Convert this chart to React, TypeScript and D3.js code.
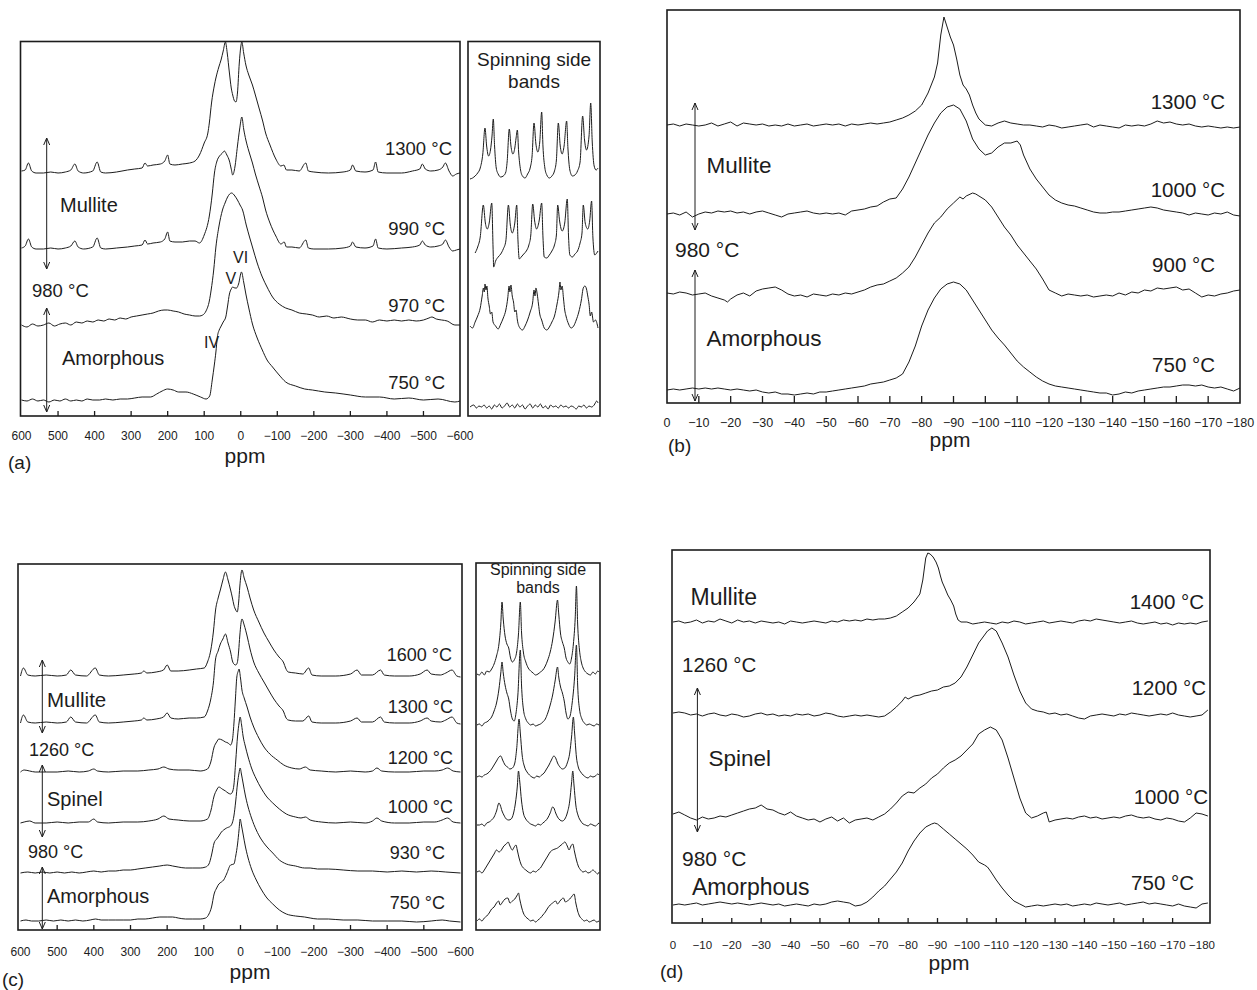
import React from "react";
import * as d3 from "d3";

type Pt = [number, number];

// ---------------- DATA ----------------
// Panel (a): ppm vs relative intensity
const aTicks = [600, 500, 400, 300, 200, 100, 0, -100, -200, -300, -400, -500, -600];
const aTemps = ["1300 °C", "990 °C", "970 °C", "750 °C"];
const a1300: Pt[] = [[600,2],[590,3],[581,10],[572,2],[560,0],[540,0],[520,1],[500,0],[480,1],[465,3],[454,9],[445,2],[430,0],[405,2],[393,11],[383,1],[370,0],[340,1],[310,3],[290,4],[270,5],[262,10],[255,7],[240,8],[220,9],[208,12],[200,18],[194,9],[180,8],[160,9],[140,10],[125,12],[113,18],[100,30],[90,40],[86,50],[80,70],[72,88],[68,95],[60,106],[54,113],[48,122],[42,131],[37,120],[31,100],[26,85],[22,78],[17,72],[13,71],[9,80],[4,110],[0,126],[-3,131],[-8,120],[-14,108],[-22,98],[-32,88],[-40,78],[-50,65],[-60,52],[-68,40],[-80,28],[-96,14],[-110,7],[-118,8],[-125,3],[-140,3],[-160,2],[-178,10],[-185,2],[-200,1],[-240,0],[-280,1],[-300,3],[-306,8],[-315,2],[-340,1],[-362,3],[-369,11],[-376,1],[-400,0],[-440,0],[-470,2],[-490,4],[-497,9],[-505,4],[-520,2],[-540,3],[-553,6],[-560,10],[-570,2],[-580,-3],[-590,-1],[-600,0]];
const a990: Pt[] = [[600,1],[590,3],[581,10],[572,2],[560,0],[540,0],[520,1],[500,0],[480,1],[465,3],[454,8],[445,2],[430,0],[405,2],[393,11],[383,1],[370,0],[340,1],[310,2],[290,3],[270,4],[262,9],[255,5],[240,6],[220,7],[208,10],[200,17],[194,8],[180,7],[160,7],[140,8],[125,8],[113,6],[100,14],[86,33],[78,55],[72,76],[65,88],[58,93],[50,96],[45,98],[38,94],[31,88],[26,80],[22,74],[16,82],[9,103],[3,120],[-3,132],[-8,120],[-14,109],[-22,98],[-32,86],[-40,75],[-50,63],[-60,51],[-68,39],[-80,26],[-96,13],[-110,5],[-119,7],[-125,2],[-140,2],[-160,1],[-178,9],[-185,1],[-200,0],[-240,0],[-280,1],[-300,3],[-306,7],[-315,2],[-340,1],[-362,3],[-369,10],[-376,1],[-400,0],[-440,1],[-470,2],[-490,4],[-497,8],[-505,4],[-520,2],[-540,3],[-553,5],[-560,9],[-570,2],[-580,-2],[-590,-1],[-600,0]];
const a970: Pt[] = [[600,0],[585,-2],[570,1],[555,-1],[540,0],[525,2],[510,-1],[495,1],[480,2],[465,0],[450,3],[435,2],[420,4],[405,3],[390,5],[375,4],[360,6],[345,5],[330,7],[315,6],[300,8],[285,9],[270,10],[255,11],[240,12],[225,14],[210,15],[200,15],[185,14],[170,13],[155,11],[140,10],[125,9],[113,9],[104,10],[95,14],[86,24],[81,35],[74,55],[68,78],[60,98],[50,115],[43,122],[36,128],[25,132],[16,129],[9,125],[2,120],[-5,115],[-15,100],[-24,88],[-32,78],[-45,62],[-59,48],[-72,38],[-87,28],[-105,21],[-123,17],[-140,15],[-160,12],[-180,11],[-196,10],[-215,8],[-235,9],[-255,7],[-275,8],[-300,6],[-320,5],[-341,5],[-360,3],[-380,5],[-400,4],[-420,5],[-440,4],[-460,5],[-480,4],[-500,5],[-515,7],[-523,8],[-535,6],[-550,5],[-565,4],[-586,0],[-600,0]];
const a750: Pt[] = [[600,2],[585,1],[570,3],[555,1],[540,2],[525,0],[510,2],[495,1],[480,3],[465,1],[450,2],[435,1],[420,3],[405,2],[386,2],[370,3],[350,2],[330,3],[310,3],[290,4],[270,5],[247,5],[230,8],[215,11],[200,13],[185,12],[170,10],[150,10],[130,8],[110,5],[95,3],[85,6],[78,22],[72,38],[68,50],[64,65],[59,72],[55,75],[48,80],[41,85],[36,96],[31,108],[26,113],[22,115],[16,114],[11.5,114],[6,118],[-2,130],[-8,120],[-14,108],[-22,94],[-32,78],[-45,64],[-59,52],[-72,42],[-87,35],[-105,27],[-123,20],[-150,16],[-175,13],[-196,12],[-230,10],[-260,9],[-300,7],[-341,5],[-380,5],[-420,3],[-460,4],[-500,2],[-540,3],[-586,0],[-600,1]];

// Panel (a) spinning side bands (normalised position 0-100 across the box)
const aSide1300: Pt[] = [[0,-3],[2,-2],[4,0],[6,3],[8,8],[10,22],[11.7,48],[13,30],[14.5,20],[16,26],[17.2,40],[18.2,57],[19.2,30],[20.5,8],[22,2],[24,-1],[26,0],[28,4],[29,14],[30.7,47],[32,30],[33.5,22],[35,28],[36,38],[37,46],[38,24],[39.5,6],[41,0],[43,-2],[45,2],[47,8],[48.5,20],[50,53],[51.5,32],[53,24],[54.5,34],[56,64],[57,30],[58.5,8],[60,1],[62,-2],[64,0],[66,5],[67.5,16],[69,53],[70.5,30],[72,22],[73.5,30],[75.5,55],[76.5,28],[78,6],[80,0],[82,1],[84,5],[86,14],[88,60],[89.5,36],[91,26],[93,40],[94.3,73],[95.5,34],[97,10],[98.5,6],[100,8]];
const aSide990: Pt[] = [[4,-2],[6,4],[8,14],[10.4,46],[12,28],[13.5,22],[15,28],[17,48],[18,4],[18.5,-16],[20,-10],[22,-6],[24,-3],[26,2],[28,10],[30,46],[31.5,26],[33,18],[35,28],[36.5,46],[37.5,10],[38.5,-8],[40,-6],[42,-3],[44,0],[46,6],[47.5,16],[49,47],[50.5,30],[52,22],[54,30],[56,48],[57,14],[58,-6],[60,-7],[62,-4],[64,0],[66,6],[67.5,16],[68.5,46],[70,30],[72,20],[74,28],[76,52],[77,14],[78,-4],[80,-6],[82,-3],[84,0],[86,8],[87.5,18],[88.5,46],[90,28],[92,22],[93.5,30],[95,50],[96,14],[97.5,-4],[99,-2],[100,0]];
const aSide970: Pt[] = [[0,0],[2,-2],[4,4],[6,10],[8,18],[9.5,30],[10.5,38],[11.2,34],[11.7,42],[12.5,36],[13.2,40],[14,28],[15,20],[16,12],[17,14],[18,4],[20,0],[22,-3],[24,2],[26,8],[28,16],[29.5,28],[30.5,40],[31.2,34],[32,41],[33,30],[34,24],[35,14],[36,16],[37,6],[39,-2],[41,-4],[43,0],[45,6],[47,14],[49,24],[50,36],[50.8,30],[51.5,38],[52.5,32],[53.5,22],[54.5,12],[56,6],[58,-2],[60,-4],[62,-1],[64,4],[66,10],[68,22],[69.5,34],[70.3,44],[71,36],[72,40],[73,28],[74,16],[75,10],[77,2],[79,-2],[81,0],[83,6],[85,14],[87,26],[88.5,38],[89.8,40],[91,37],[92,30],[93,22],[94,10],[95,14],[96.5,4],[98,6],[100,-2]];
const aSide750: Pt[] = [[0,0],[3,2],[5,-1],[7,1],[9,0],[11,2],[13,-1],[15,1],[17,-2],[19,2],[21,0],[23,3],[25,-1],[27,1],[29,4],[31,0],[33,2],[35,-1],[37,3],[39,0],[41,2],[43,-2],[45,1],[47,3],[49,-1],[51,2],[53,0],[55,3],[57,-1],[59,1],[61,-2],[63,2],[65,0],[67,1],[69,-1],[71,2],[73,0],[75,1],[77,-1],[79,1],[81,0],[83,-2],[85,1],[87,0],[89,2],[91,-1],[93,1],[95,0],[97,2],[99,6],[100,4]];

// Panel (b)
const bTicks = [0, -10, -20, -30, -40, -50, -60, -70, -80, -90, -100, -110, -120, -130, -140, -150, -160, -170, -180];
const bTemps = ["1300 °C", "1000 °C", "900 °C", "750 °C"];
const b1300: Pt[] = [[0,0],[-2,1],[-4,-1],[-6,1],[-8,0],[-10,-1],[-12,0],[-14,2],[-16,-1],[-18,1],[-20,3],[-22,-1],[-24,2],[-26,1],[-28,0],[-30,1],[-32,-1],[-34,0],[-36,-1],[-38,1],[-40,-1],[-42,0],[-44,1],[-46,-1],[-48,0],[-50,1],[-52,0],[-54,1],[-56,-1],[-58,1],[-60,0],[-62,1],[-64,2],[-66,1],[-68,2],[-70,3],[-72,5],[-74,7],[-76,10],[-78,14],[-80,20],[-82,32],[-84,48],[-85,62],[-86,90],[-87,108],[-88,98],[-89,88],[-90,80],[-91,66],[-92,50],[-93,40],[-94,36],[-95,30],[-96,20],[-97,12],[-98,6],[-100,0],[-102,-1],[-104,2],[-106,4],[-108,2],[-110,1],[-112,0],[-114,0],[-116,-1],[-118,-2],[-120,0],[-122,-1],[-124,-3],[-126,-2],[-128,-1],[-130,0],[-132,1],[-134,-2],[-136,0],[-138,-1],[-140,-2],[-142,-3],[-144,0],[-146,-1],[-148,0],[-150,-1],[-152,1],[-154,4],[-156,2],[-158,3],[-160,1],[-162,0],[-164,1],[-166,-1],[-168,-2],[-170,-1],[-172,-2],[-174,-3],[-176,-2],[-178,-3],[-180,-2]];
const b1000: Pt[] = [[0,-1],[-2,0],[-4,-2],[-6,1],[-8,-4],[-10,-1],[-12,1],[-14,0],[-16,2],[-18,1],[-20,2],[-22,0],[-24,1],[-26,-1],[-28,1],[-30,2],[-32,0],[-34,-2],[-36,-4],[-38,-1],[-40,0],[-42,1],[-44,2],[-46,0],[-48,-1],[-50,0],[-52,-1],[-54,0],[-56,-2],[-58,2],[-60,3],[-62,4],[-64,6],[-66,7],[-68,11],[-70,14],[-72,15],[-74,24],[-76,36],[-78,50],[-80,64],[-82,78],[-84,90],[-86,100],[-88,106],[-90,108],[-92,104],[-94,92],[-96,74],[-98,64],[-100,58],[-102,60],[-104,66],[-106,70],[-108,70],[-110,72],[-111,68],[-112,58],[-114,44],[-116,34],[-118,26],[-120,18],[-122,13],[-124,10],[-126,8],[-128,7],[-130,5],[-132,3],[-134,1],[-136,0],[-138,0],[-140,1],[-142,1],[-144,2],[-146,3],[-148,4],[-150,5],[-152,6],[-154,5],[-156,3],[-158,2],[-160,1],[-162,0],[-164,-2],[-166,0],[-168,-1],[-170,-2],[-172,0],[-174,-1],[-176,1],[-178,-2],[-180,-3]];
const b900: Pt[] = [[0,0],[-2,-1],[-4,1],[-6,0],[-8,-2],[-10,-1],[-12,0],[-14,-3],[-16,-5],[-18,-7],[-19,-9],[-20,-6],[-22,-2],[-24,0],[-26,-3],[-28,2],[-30,4],[-32,5],[-34,6],[-36,3],[-38,-1],[-40,-3],[-42,-2],[-44,-4],[-46,-1],[-48,-2],[-50,-3],[-52,-1],[-54,-2],[-56,0],[-58,-1],[-60,1],[-62,3],[-64,6],[-66,8],[-68,9],[-70,12],[-72,15],[-74,20],[-76,26],[-78,36],[-80,48],[-82,60],[-84,70],[-86,76],[-88,84],[-90,90],[-92,96],[-93,94],[-94,97],[-96,100],[-97,99],[-98,97],[-100,93],[-102,86],[-104,76],[-106,66],[-108,58],[-110,48],[-112,40],[-114,32],[-116,24],[-118,14],[-120,3],[-122,0],[-124,-3],[-126,-1],[-128,-2],[-130,-3],[-132,-2],[-134,-4],[-136,-3],[-138,-2],[-140,-3],[-142,0],[-144,-2],[-146,1],[-148,0],[-150,3],[-152,2],[-154,5],[-156,4],[-158,5],[-160,6],[-162,3],[-164,4],[-166,0],[-168,-4],[-170,-2],[-172,-3],[-174,-1],[-176,0],[-178,2],[-180,3]];
const b750: Pt[] = [[0,0],[-2,1],[-4,0],[-6,1],[-8,2],[-10,1],[-12,2],[-14,1],[-16,2],[-18,1],[-20,0],[-22,1],[-24,0],[-26,-1],[-28,0],[-30,-2],[-32,-3],[-34,-2],[-36,-4],[-38,-4],[-40,-5],[-42,-4],[-44,-3],[-46,-4],[-48,-2],[-50,-2],[-52,-1],[-54,0],[-56,1],[-58,2],[-60,3],[-62,4],[-64,6],[-66,7],[-68,8],[-70,10],[-72,12],[-74,16],[-76,28],[-78,44],[-80,64],[-82,80],[-84,92],[-86,101],[-88,106],[-90,108],[-92,106],[-94,100],[-96,90],[-98,80],[-100,70],[-102,60],[-104,52],[-106,45],[-108,37],[-110,29],[-112,23],[-114,18],[-116,13],[-118,9],[-120,6],[-122,4],[-124,3],[-126,2],[-128,1],[-130,0],[-132,-1],[-134,-2],[-136,-3],[-138,-3],[-140,-5],[-142,-4],[-144,-2],[-146,-3],[-148,-1],[-150,0],[-152,1],[-154,2],[-156,3],[-158,3],[-160,4],[-162,5],[-164,5],[-166,4],[-168,5],[-170,3],[-172,2],[-174,3],[-176,1],[-178,-1],[-180,2]];

// Panel (c)
const cTicks = aTicks;
const cTemps = ["1600 °C", "1300 °C", "1200 °C", "1000 °C", "930 °C", "750 °C"];
const c1600: Pt[] = [[600,0],[592,8],[580,1],[560,0],[530,1],[500,0],[475,1],[463,6],[450,1],[420,0],[396,8],[385,1],[360,0],[320,1],[290,2],[270,3],[264,5],[255,3],[230,4],[210,6],[200,11],[190,5],[170,5],[140,6],[120,7],[99,8],[90,14],[81,26],[74,44],[68,66],[61,78],[55,86],[48,96],[41,104],[34,96],[27,86],[22,78],[18,71],[13,66],[9,64],[5,74],[2,89],[-4,106],[-10,98],[-18,89],[-26,78],[-36,66],[-50,54],[-64,43],[-78,34],[-91,26],[-105,19],[-118,13],[-123,8],[-130,4],[-150,3],[-170,2],[-186,8],[-195,1],[-220,0],[-260,0],[-300,2],[-318,6],[-330,1],[-360,1],[-382,6],[-392,1],[-420,0],[-460,0],[-490,2],[-509,6],[-520,2],[-545,1],[-560,3],[-577,6],[-590,0],[-600,-1]];
const c1300: Pt[] = [[600,0],[592,8],[580,1],[560,0],[530,1],[500,0],[475,1],[463,6],[450,1],[420,0],[396,8],[385,1],[360,0],[320,1],[290,2],[270,3],[264,5],[255,3],[230,4],[210,6],[200,10],[190,5],[170,4],[140,5],[120,5],[99,6],[90,12],[81,24],[74,40],[68,64],[61,72],[55,79],[48,84],[41,89],[34,80],[27,71],[22,62],[18,59],[13,58],[9,60],[5,72],[2,87],[-4,104],[-10,98],[-18,87],[-26,74],[-36,61],[-50,50],[-64,41],[-78,32],[-91,24],[-105,17],[-118,11],[-123,6],[-130,3],[-150,2],[-170,2],[-186,7],[-195,1],[-220,0],[-260,0],[-300,2],[-318,5],[-330,1],[-360,1],[-382,6],[-392,1],[-420,0],[-460,0],[-490,2],[-509,5],[-520,2],[-545,1],[-560,3],[-577,6],[-590,0],[-600,-1]];
const c1200: Pt[] = [[600,0],[590,2],[575,1],[560,0],[530,0],[500,0],[470,1],[440,0],[415,1],[400,3],[390,1],[360,0],[320,1],[280,1],[250,2],[225,3],[209,5],[195,3],[170,2],[140,2],[110,1],[90,3],[81,10],[72,25],[65,30],[59,33],[50,32],[41,30],[34,29],[27,27],[22,32],[18,48],[14,72],[10,95],[6,101],[4,103],[0,94],[-4,82],[-10,74],[-18,65],[-26,55],[-36,45],[-50,34],[-64,25],[-80,18],[-100,12],[-118,7],[-140,4],[-160,3],[-177,5],[-190,2],[-220,1],[-260,0],[-300,1],[-340,0],[-360,1],[-372,4],[-385,1],[-420,0],[-460,0],[-500,1],[-530,1],[-550,2],[-565,4],[-580,1],[-600,0]];
const c1000: Pt[] = [[600,0],[590,1],[575,2],[560,0],[530,0],[500,1],[470,0],[440,1],[415,1],[400,4],[390,1],[360,0],[320,1],[280,1],[250,2],[225,4],[209,7],[195,4],[170,3],[140,2],[110,2],[90,4],[81,12],[72,27],[65,33],[59,36],[50,34],[41,32],[34,30],[27,29],[22,31],[18,38],[13,62],[8,87],[4,100],[1,106],[-3,98],[-7,87],[-13,77],[-20,67],[-30,55],[-43,44],[-56,35],[-70,27],[-88,20],[-106,14],[-125,9],[-150,6],[-165,5],[-177,6],[-190,3],[-220,1],[-260,0],[-300,1],[-340,0],[-360,2],[-372,5],[-385,2],[-420,0],[-460,0],[-500,1],[-530,1],[-550,3],[-565,5],[-580,1],[-600,0]];
const c930: Pt[] = [[600,0],[580,1],[560,0],[540,1],[520,0],[500,1],[480,0],[460,1],[440,0],[420,1],[400,2],[380,1],[360,2],[340,2],[320,3],[300,3],[280,4],[260,5],[240,6],[220,7],[200,8],[185,7],[170,6],[150,5],[130,5],[110,5],[95,6],[86,9],[79,18],[72,30],[65,34],[59,37],[52,41],[46,43],[38,45],[27,47],[18,57],[13,72],[8,90],[4,100],[1,105],[-3,98],[-7,90],[-13,78],[-20,67],[-30,55],[-43,43],[-56,34],[-70,27],[-88,20],[-106,13],[-125,9],[-150,7],[-175,5],[-190,5],[-210,4],[-240,4],[-280,3],[-320,2],[-360,2],[-400,1],[-440,2],[-480,1],[-520,2],[-560,1],[-600,0]];
const c750: Pt[] = [[600,1],[585,2],[570,1],[550,1],[530,2],[510,1],[490,2],[470,1],[450,2],[430,1],[410,2],[395,3],[380,2],[360,2],[340,2],[320,2],[300,2],[280,3],[260,3],[240,4],[220,5],[200,5],[185,5],[170,4],[150,3],[130,3],[110,3],[95,4],[86,8],[79,15],[72,28],[65,34],[59,38],[52,40],[46,42],[38,48],[27,57],[18,58],[13,66],[8,78],[4,92],[1,103],[-3,96],[-7,88],[-13,76],[-20,65],[-30,53],[-43,42],[-56,33],[-70,25],[-88,18],[-106,12],[-125,8],[-150,6],[-175,5],[-190,4],[-210,3],[-240,3],[-280,2],[-320,2],[-360,1],[-400,1],[-440,1],[-480,0],[-520,1],[-550,2],[-570,1],[-600,0]];

// Panel (c) spinning side bands (normalised position 0-100 across the box)
const cSide1600: Pt[] = [[0,0],[2,-1],[4,2],[6,-1],[8,3],[10,2],[12,5],[14,10],[16,18],[18,30],[19.5,50],[20.5,72],[21.5,55],[23,38],[24.5,30],[26,26],[27.5,16],[29,12],[30.5,14],[32.5,22],[34,40],[35.5,72],[36.5,42],[38,22],[40,12],[42,6],[44,3],[46,1],[48,-1],[50,0],[52,2],[54,4],[56,8],[58,14],[60,22],[62,34],[64,52],[66,74],[67,60],[68.5,40],[70,32],[71.5,26],[73,16],[74.5,12],[76,10],[77.5,16],[79,30],[80.5,56],[81.5,88],[82.5,50],[84,24],[85.5,12],[87,6],[89,2],[91,0],[93,-1],[95,2],[97,0],[99,3],[100,2]];
const cSide1300: Pt[] = [[0,0],[2,1],[4,-1],[6,2],[8,3],[10,5],[12,8],[14,14],[16,22],[18,36],[19.5,52],[20.5,63],[21.5,52],[23,40],[24.5,32],[26,26],[27.5,14],[29,6],[30.5,4],[32,12],[33.5,30],[35.5,75],[36.5,40],[38,16],[40,6],[42,2],[44,0],[46,1],[48,-1],[50,0],[52,1],[54,3],[56,6],[58,12],[60,20],[62,30],[64,44],[66,58],[67,48],[68.5,38],[70,32],[71.5,24],[73,12],[74.5,6],[76,8],[78,22],[80,48],[81.5,80],[82.5,40],[84,16],[86,6],[88,2],[90,0],[92,1],[94,0],[96,-1],[98,1],[100,0]];
const cSide1200: Pt[] = [[0,0],[2,1],[4,0],[6,2],[8,3],[10,5],[12,8],[14,12],[16,16],[18,20],[19.5,21],[21,17],[23,12],[25,10],[27,8],[29,9],[31,14],[32.5,28],[34.5,58],[35.5,44],[37,22],[39,10],[41,5],[43,2],[45,0],[47,-1],[49,1],[51,0],[53,2],[55,4],[57,8],[59,12],[61,17],[63,21],[64.5,19],[66,14],[68,10],[70,8],[72,9],[74,14],[76,24],[77.5,40],[79,60],[80,44],[81.5,20],[83,10],[85,5],[87,2],[89,0],[91,-1],[93,1],[95,0],[97,1],[99,3],[100,2]];
const cSide1000: Pt[] = [[0,0],[2,0],[4,1],[6,-1],[8,2],[10,3],[12,5],[14,8],[16,14],[18,22],[19,20],[20.5,14],[22,10],[24,6],[26,5],[28,6],[30,12],[31.5,22],[33,38],[34,54],[35,44],[36.5,24],[38,12],[40,6],[42,3],[44,1],[46,0],[48,-1],[50,1],[52,0],[54,2],[56,4],[58,7],[60,12],[62,18],[63,17],[64.5,12],[66,8],[68,5],[70,4],[72,6],[74,12],[76,24],[77.5,42],[78.5,54],[79.5,40],[81,20],[83,9],[85,4],[87,1],[89,0],[91,-1],[93,1],[95,0],[97,-1],[99,1],[100,2]];
const cSide930: Pt[] = [[0,0],[2,1],[4,-1],[6,2],[8,6],[10,10],[12,14],[14,18],[16,22],[18,20],[20,22],[22,26],[24,28],[25.5,30],[27,26],[29,22],[30.5,25],[32,27],[33,22],[34.5,14],[36,8],[38,4],[40,2],[42,0],[44,-1],[46,1],[48,0],[50,2],[52,4],[54,8],[56,12],[58,16],[60,20],[62,22],[64,23],[66,24],[68,26],[70,28],[72,30],[74,26],[75.5,22],[77,26],[78.5,28],[80,20],[81.5,12],[83,6],[85,2],[87,0],[89,1],[91,-1],[93,0],[95,2],[97,0],[99,-2],[100,0]];
const cSide750: Pt[] = [[0,0],[2,2],[4,0],[6,3],[8,5],[10,8],[12,12],[14,14],[16,18],[17.7,20],[19,16],[21,19],[23,22],[25.3,23],[27,18],[29,20],[31,22],[33,26],[34,28],[35,22],[36.5,14],[38,8],[40,4],[42,2],[44,0],[46,1],[48,-1],[50,1],[52,3],[54,6],[56,9],[58,13],[60,16],[62,18],[64.5,20],[66,17],[68,20],[70.8,23],[72.5,19],[74,20],[76,22],[78,25],[79.6,27],[81,18],[82.5,10],[84,5],[86,2],[88,0],[90,1],[92,-1],[94,0],[96,1],[98,-1],[100,0]];

// Panel (d)
const dTicks = bTicks;
const dTemps = ["1400 °C", "1200 °C", "1000 °C", "750 °C"];
const d1400: Pt[] = [[0,0],[-2,1],[-4,-1],[-6,0],[-8,2],[-10,-1],[-12,1],[-14,0],[-16,3],[-18,1],[-20,-1],[-22,2],[-24,0],[-26,1],[-28,-1],[-30,1],[-32,0],[-34,-1],[-36,0],[-38,-2],[-40,1],[-42,0],[-44,-1],[-46,0],[-48,1],[-50,0],[-52,-1],[-54,1],[-56,0],[-58,2],[-60,1],[-62,2],[-64,1],[-66,3],[-68,2],[-70,3],[-72,3],[-74,4],[-76,6],[-78,10],[-80,14],[-82,20],[-83,24],[-84,28],[-85,42],[-86,64],[-86.7,69],[-87.5,68],[-88.5,65],[-89.5,60],[-90.3,54],[-91,46],[-91.6,40],[-92.5,34],[-93.5,27],[-94.5,22],[-95.5,16],[-96.2,8],[-97,2],[-98,0],[-100,0],[-102,-2],[-104,-1],[-106,0],[-108,-1],[-110,-2],[-112,0],[-114,-1],[-116,1],[-118,0],[-120,-2],[-122,-1],[-124,0],[-126,1],[-128,-1],[-130,0],[-132,1],[-134,0],[-136,-1],[-138,1],[-140,2],[-142,1],[-144,3],[-146,2],[-148,1],[-150,0],[-152,-1],[-154,0],[-156,1],[-158,-1],[-160,-2],[-162,-1],[-164,0],[-166,-2],[-168,-1],[-170,-3],[-172,-1],[-174,-2],[-176,-1],[-178,-2],[-180,0],[-182,1]];
const d1200: Pt[] = [[0,2],[-2,3],[-4,2],[-6,0],[-8,1],[-10,-1],[-12,1],[-14,2],[-16,0],[-18,-1],[-20,1],[-22,0],[-24,-2],[-26,-1],[-28,1],[-30,2],[-32,0],[-34,1],[-36,-1],[-38,0],[-40,-1],[-42,1],[-44,0],[-46,1],[-48,-1],[-50,0],[-52,2],[-54,1],[-56,-1],[-58,-2],[-60,-1],[-62,0],[-64,-1],[-66,0],[-68,-1],[-70,-2],[-72,-1],[-74,3],[-76,8],[-78,14],[-79,18],[-80,16],[-82,19],[-84,20],[-86,22],[-88,24],[-90,25],[-92,28],[-94,29],[-96,32],[-98,38],[-100,48],[-102,60],[-104,72],[-106,80],[-107,84],[-108.5,87],[-110,84],[-112,72],[-114,58],[-116,40],[-118,24],[-120,12],[-122,6],[-124,4],[-126,3],[-128,1],[-130,2],[-132,0],[-134,1],[-136,-1],[-138,-3],[-140,-4],[-142,-1],[-144,0],[-146,1],[-148,0],[-150,-1],[-152,1],[-154,0],[-156,2],[-158,1],[-160,0],[-162,-1],[-164,0],[-166,1],[-168,0],[-170,2],[-172,0],[-174,-1],[-176,-2],[-178,-1],[-180,0],[-182,5]];
const d1000: Pt[] = [[0,4],[-2,6],[-4,3],[-6,0],[-8,-2],[-10,1],[-12,-1],[-14,0],[-16,2],[-18,1],[-20,3],[-22,5],[-24,7],[-26,9],[-28,10],[-30,13],[-32,9],[-34,8],[-36,5],[-38,3],[-40,6],[-42,2],[-44,0],[-46,-2],[-48,-1],[-50,-4],[-52,-1],[-54,1],[-56,-3],[-58,0],[-60,-5],[-62,-2],[-64,-1],[-66,0],[-68,-2],[-70,1],[-72,4],[-74,9],[-76,15],[-78,22],[-80,26],[-82,25],[-84,30],[-86,34],[-88,40],[-90,44],[-92,50],[-94,55],[-96,58],[-98,62],[-100,68],[-102,74],[-104,84],[-106,88],[-108,91],[-110,88],[-112,78],[-114,60],[-116,40],[-118,20],[-120,5],[-122,0],[-124,2],[-126,5],[-127,6],[-128,-4],[-130,-2],[-132,-1],[-134,0],[-136,-1],[-138,1],[-140,2],[-142,0],[-144,1],[-146,-1],[-148,0],[-150,1],[-152,0],[-154,2],[-156,3],[-158,1],[-160,0],[-162,1],[-164,-1],[-166,-2],[-168,0],[-170,-1],[-172,-3],[-174,-4],[-176,0],[-178,5],[-180,4],[-182,2]];
const d750: Pt[] = [[0,0],[-2,1],[-4,0],[-6,1],[-8,2],[-10,0],[-12,1],[-14,2],[-16,3],[-18,2],[-20,1],[-22,2],[-24,1],[-26,0],[-28,1],[-30,2],[-32,1],[-34,0],[-36,1],[-38,-1],[-40,0],[-42,1],[-44,0],[-46,-1],[-48,1],[-50,0],[-52,1],[-54,3],[-56,4],[-58,3],[-60,2],[-62,-1],[-64,0],[-66,3],[-68,8],[-70,14],[-72,19],[-74,26],[-76,33],[-78,42],[-80,54],[-82,64],[-84,72],[-86,78],[-88,81],[-89,82],[-90,81],[-92,76],[-94,71],[-96,66],[-98,61],[-100,56],[-102,50],[-104,43],[-106,40],[-107,38],[-108,34],[-110,25],[-112,17],[-114,10],[-116,4],[-118,1],[-120,-2],[-122,-1],[-124,0],[-126,-1],[-128,0],[-130,1],[-132,0],[-134,1],[-136,-1],[-138,0],[-140,1],[-142,0],[-144,2],[-146,1],[-148,0],[-150,1],[-152,2],[-154,0],[-156,1],[-158,2],[-160,3],[-162,1],[-164,2],[-166,1],[-168,0],[-170,-1],[-172,1],[-174,-1],[-176,-2],[-178,-3],[-180,1],[-182,2]];

// ---------------- DRAWING ----------------
const FONT = "'Liberation Sans', Arial, Helvetica, sans-serif";
const INK = "#1c1c1c";

const fmt = (v: number) => (v < 0 ? "\u2212" + Math.abs(v) : String(v));

function Trace({ data, x, base, curve }: { data: Pt[]; x: (v: number) => number; base: number; curve: any }) {
  const y = d3.scaleLinear().domain([0, 100]).range([base, base - 100]);
  const line = d3.line<Pt>().x((d) => x(d[0])).y((d) => y(d[1])).curve(curve);
  return <path d={line(data) || ""} fill="none" stroke={INK} strokeWidth={1} strokeLinejoin="round" />;
}

function Arrow({ x, y1, y2 }: { x: number; y1: number; y2: number }) {
  return (
    <g stroke={INK} strokeWidth={1} fill="none">
      <line x1={x} x2={x} y1={y1} y2={y2} />
      <polyline points={`${x - 3},${y1 + 7} ${x},${y1} ${x + 3},${y1 + 7}`} />
      <polyline points={`${x - 3},${y2 - 7} ${x},${y2} ${x + 3},${y2 - 7}`} />
    </g>
  );
}

function Label({ x, y, text, size, anchor = "start" }: { x: number; y: number; text: string; size: number; anchor?: string }) {
  return (
    <text x={x} y={y + size * 0.36} fontSize={size} textAnchor={anchor as any} fill={INK} fontFamily={FONT}>
      {text}
    </text>
  );
}

function Frame({ x0, x1, y0, y1 }: { x0: number; x1: number; y0: number; y1: number }) {
  return <rect x={x0} y={y0} width={x1 - x0} height={y1 - y0} fill="none" stroke={INK} strokeWidth={1.6} />;
}

function TickAxis({ x, ticks, y, len, labelY, size, inner }: { x: d3.ScaleLinear<number, number>; ticks: number[]; y: number; len: number; labelY: number; size: number; inner: number[] }) {
  return (
    <g>
      {inner.map((t) => (
        <line key={"t" + t} x1={x(t)} x2={x(t)} y1={y} y2={y - len} stroke={INK} strokeWidth={1.3} />
      ))}
      {ticks.map((t) => (
        <text key={"l" + t} x={x(t)} y={labelY + size * 0.36} fontSize={size} textAnchor="middle" fill={INK} fontFamily={FONT}>
          {fmt(t)}
        </text>
      ))}
    </g>
  );
}

export default function App() {
  const mono = d3.curveMonotoneX;
  const lin = d3.curveLinear;

  // Panel (a)
  const ax = d3.scaleLinear().domain([600, -600]).range([21.5, 460]);
  const aBase = [173, 249, 325, 402];
  const aSpectra = [a1300, a990, a970, a750];
  const aSx = d3.scaleLinear().domain([0, 100]).range([470, 598]);
  const aSideBase = [176, 251, 326, 407];
  const aSide = [aSide1300, aSide990, aSide970, aSide750];
  const aTempY = [148, 228, 305, 382];
  const aTempX = [452, 445, 445, 445];

  // Panel (b)
  const bx = d3.scaleLinear().domain([0, -180]).range([667, 1240]);
  const bBase = [125, 213, 293, 390];
  const bSpectra = [b1300, b1000, b900, b750];
  const bTempY = [102, 190, 265, 365];
  const bTempX = [1225, 1225, 1215, 1215];

  // Panel (c)
  const cx = d3.scaleLinear().domain([600, -600]).range([20.5, 460.5]);
  const cBase = [676, 723, 772, 823, 873, 922];
  const cSpectra = [c1600, c1300, c1200, c1000, c930, c750];
  const cSx = d3.scaleLinear().domain([0, 100]).range([477, 599]);
  const cSideBase = [674, 725, 777, 825, 872, 921];
  const cSide = [cSide1600, cSide1300, cSide1200, cSide1000, cSide930, cSide750];
  const cTempY = [655, 707, 758, 807, 853, 903];
  const cTempX = [452, 453, 453, 453, 445, 445];

  // Panel (d)
  const dx = d3.scaleLinear().domain([0, -180]).range([673, 1202]);
  const dBase = [622, 715, 818, 905];
  const dSpectra = [d1400, d1200, d1000, d750];
  const dTempY = [602, 688, 797, 883];
  const dTempX = [1204, 1206, 1208, 1194];

  const innerAC = aTicks.filter((t) => Math.abs(t) < 600);
  const innerBD = bTicks.filter((t) => t < 0 && t > -180);

  return (
    <svg width={1257} height={990} viewBox="0 0 1257 990" style={{ position: "absolute", left: 0, top: 0, background: "#fff" }}>
      <rect x={0} y={0} width={1257} height={990} fill="#fff" />

      {/* ---------- (a) ---------- */}
      <Frame x0={20.5} x1={460} y0={41.5} y1={416} />
      <TickAxis x={ax} ticks={aTicks} y={416} len={5} labelY={436} size={12} inner={innerAC} />
      {aSpectra.map((s, i) => (
        <Trace key={"a" + i} data={s} x={ax} base={aBase[i]} curve={mono} />
      ))}
      {aTemps.map((t, i) => (
        <Label key={"at" + i} x={aTempX[i]} y={aTempY[i]} text={t} size={18.5} anchor="end" />
      ))}
      <Label x={60} y={205} text="Mullite" size={20} />
      <Label x={32} y={290} text="980 °C" size={18.5} />
      <Label x={62} y={358} text="Amorphous" size={20} />
      <Label x={204} y={342} text="IV" size={16} />
      <Label x={225.5} y={278} text="V" size={16} />
      <Label x={233} y={257} text="VI" size={16} />
      <Arrow x={46.7} y1={138} y2={269} />
      <Arrow x={46.7} y1={308} y2={412} />
      <Frame x0={468} x1={600} y0={41.5} y1={416} />
      <text x={534} y={66} fontSize={19} textAnchor="middle" fill={INK} fontFamily={FONT}>Spinning side</text>
      <text x={534} y={88} fontSize={19} textAnchor="middle" fill={INK} fontFamily={FONT}>bands</text>
      {aSide.map((s, i) => (
        <Trace key={"as" + i} data={s} x={aSx} base={aSideBase[i]} curve={mono} />
      ))}
      <text x={245} y={463} fontSize={21} textAnchor="middle" fill={INK} fontFamily={FONT}>ppm</text>
      <text x={8} y={469} fontSize={19} fill={INK} fontFamily={FONT}>(a)</text>

      {/* ---------- (b) ---------- */}
      <Frame x0={667} x1={1240} y0={10} y1={403} />
      <TickAxis x={bx} ticks={bTicks} y={403} len={7} labelY={422.5} size={12.5} inner={innerBD} />
      {bSpectra.map((s, i) => (
        <Trace key={"b" + i} data={s} x={bx} base={bBase[i]} curve={lin} />
      ))}
      {bTemps.map((t, i) => (
        <Label key={"bt" + i} x={bTempX[i]} y={bTempY[i]} text={t} size={20.5} anchor="end" />
      ))}
      <Label x={706.5} y={165} text="Mullite" size={22.5} />
      <Label x={675} y={249} text="980 °C" size={21} />
      <Label x={706.5} y={338} text="Amorphous" size={22.5} />
      <Arrow x={695} y1={103} y2={230} />
      <Arrow x={695} y1={270} y2={401} />
      <text x={950} y={447} fontSize={21} textAnchor="middle" fill={INK} fontFamily={FONT}>ppm</text>
      <text x={668} y={452} fontSize={19} fill={INK} fontFamily={FONT}>(b)</text>

      {/* ---------- (c) ---------- */}
      <Frame x0={18} x1={462} y0={564} y1={930} />
      <TickAxis x={cx} ticks={cTicks} y={930} len={5} labelY={952} size={12} inner={innerAC} />
      {cSpectra.map((s, i) => (
        <Trace key={"c" + i} data={s} x={cx} base={cBase[i]} curve={mono} />
      ))}
      {cTemps.map((t, i) => (
        <Label key={"ct" + i} x={cTempX[i]} y={cTempY[i]} text={t} size={18} anchor="end" />
      ))}
      <Label x={47} y={700} text="Mullite" size={20.5} />
      <Label x={29} y={750} text="1260 °C" size={18} />
      <Label x={47} y={799} text="Spinel" size={20} />
      <Label x={28} y={852} text="980 °C" size={18} />
      <Label x={47} y={896} text="Amorphous" size={20} />
      <Arrow x={42.3} y1={660} y2={733} />
      <Arrow x={42.3} y1={765} y2={837} />
      <Arrow x={42.3} y1={867} y2={929} />
      <Frame x0={476} x1={600} y0={563} y1={930} />
      <text x={538} y={575} fontSize={16} textAnchor="middle" fill={INK} fontFamily={FONT}>Spinning side</text>
      <text x={538} y={593} fontSize={16} textAnchor="middle" fill={INK} fontFamily={FONT}>bands</text>
      {cSide.map((s, i) => (
        <Trace key={"cs" + i} data={s} x={cSx} base={cSideBase[i]} curve={mono} />
      ))}
      <text x={250} y={979} fontSize={21} textAnchor="middle" fill={INK} fontFamily={FONT}>ppm</text>
      <text x={2} y={986} fontSize={19} fill={INK} fontFamily={FONT}>(c)</text>

      {/* ---------- (d) ---------- */}
      <Frame x0={672} x1={1210} y0={550} y1={923} />
      <TickAxis x={dx} ticks={dTicks} y={923} len={5} labelY={945} size={11.5} inner={innerBD} />
      {dSpectra.map((s, i) => (
        <Trace key={"d" + i} data={s} x={dx} base={dBase[i]} curve={lin} />
      ))}
      {dTemps.map((t, i) => (
        <Label key={"dt" + i} x={dTempX[i]} y={dTempY[i]} text={t} size={20.5} anchor="end" />
      ))}
      <Label x={690.5} y={597} text="Mullite" size={23} />
      <Label x={682} y={665} text="1260 °C" size={20.5} />
      <Label x={708.5} y={758} text="Spinel" size={22.5} />
      <Label x={682} y={858} text="980 °C" size={21} />
      <Label x={692} y={887} text="Amorphous" size={23} />
      <Arrow x={697.4} y1={688} y2={832} />
      <text x={949} y={970} fontSize={21} textAnchor="middle" fill={INK} fontFamily={FONT}>ppm</text>
      <text x={660} y={978} fontSize={19} fill={INK} fontFamily={FONT}>(d)</text>
    </svg>
  );
}
